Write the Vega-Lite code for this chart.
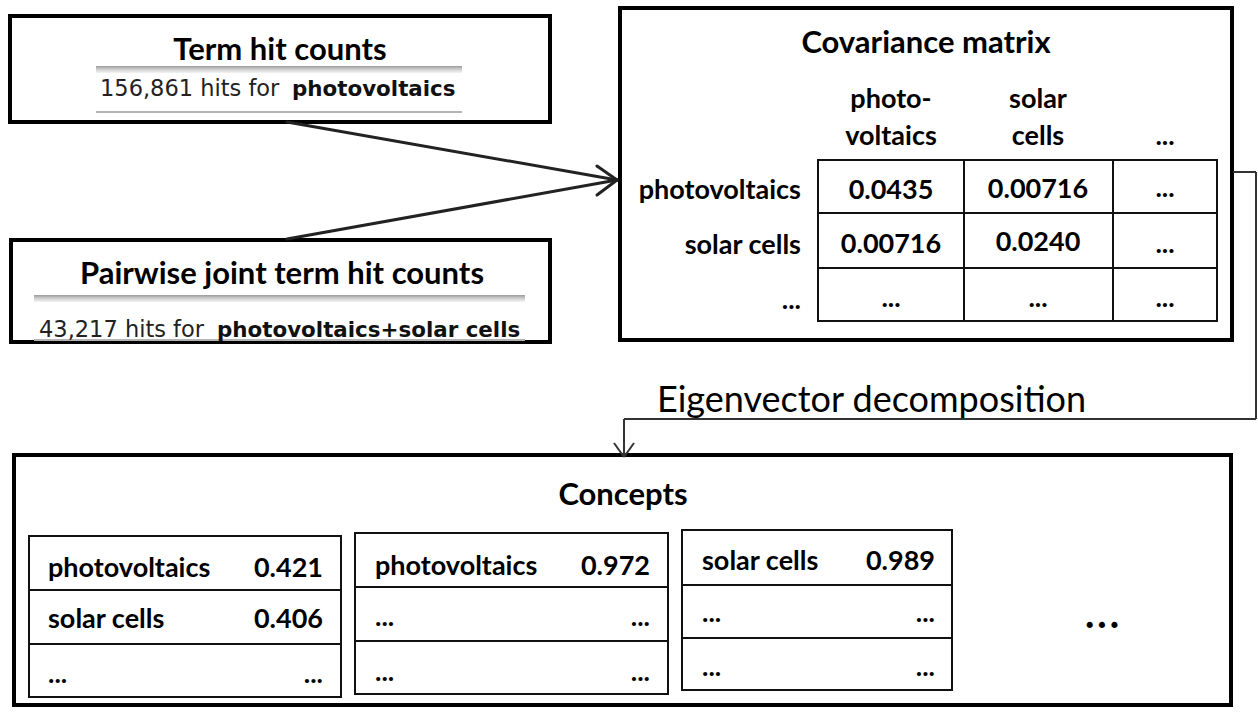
{
  "$schema": "https://vega.github.io/schema/vega-lite/v6.json",
  "width": 1258,
  "height": 712,
  "autosize": {"type": "fit", "contains": "padding"},
  "padding": 0,
  "background": "white",
  "config": {"view": {"stroke": null}},
  "datasets": {
    "boxes": [
      {"x": 10, "y": 16, "x2": 550, "y2": 122},
      {"x": 11, "y": 240, "x2": 550, "y2": 342},
      {"x": 620, "y": 8, "x2": 1232, "y2": 340},
      {"x": 14, "y": 455, "x2": 1231, "y2": 705}
    ],
    "bands": [
      {"x": 96, "y": 66, "x2": 462, "y2": 73},
      {"x": 34, "y": 295, "x2": 525, "y2": 302}
    ],
    "underlines": [
      {"x": 96, "y": 111, "x2": 462, "y2": 113},
      {"x": 34, "y": 339, "x2": 525, "y2": 341}
    ],
    "cells": [
      {"x": 818, "x2": 964, "y": 160, "y2": 213},
      {"x": 964, "x2": 1113, "y": 160, "y2": 213},
      {"x": 1113, "x2": 1217, "y": 160, "y2": 213},
      {"x": 818, "x2": 964, "y": 213, "y2": 268},
      {"x": 964, "x2": 1113, "y": 213, "y2": 268},
      {"x": 1113, "x2": 1217, "y": 213, "y2": 268},
      {"x": 818, "x2": 964, "y": 268, "y2": 321},
      {"x": 964, "x2": 1113, "y": 268, "y2": 321},
      {"x": 1113, "x2": 1217, "y": 268, "y2": 321},
      {"x": 29, "x2": 341, "y": 536, "y2": 590},
      {"x": 29, "x2": 341, "y": 590, "y2": 644},
      {"x": 29, "x2": 341, "y": 644, "y2": 697},
      {"x": 355, "x2": 668, "y": 533, "y2": 587},
      {"x": 355, "x2": 668, "y": 587, "y2": 641},
      {"x": 355, "x2": 668, "y": 641, "y2": 694},
      {"x": 682, "x2": 952, "y": 530, "y2": 585},
      {"x": 682, "x2": 952, "y": 585, "y2": 638},
      {"x": 682, "x2": 952, "y": 638, "y2": 690}
    ],
    "links": [
      {"x": 287, "y": 122, "x2": 617, "y2": 180},
      {"x": 287, "y": 239, "x2": 617, "y2": 180},
      {"x": 597, "y": 166, "x2": 617, "y2": 180},
      {"x": 597, "y": 195, "x2": 617, "y2": 180}
    ],
    "bracket": [
      {"x": 1233, "y": 172, "x2": 1256, "y2": 172},
      {"x": 1256, "y": 172, "x2": 1256, "y2": 419},
      {"x": 1256, "y": 419, "x2": 624, "y2": 419},
      {"x": 624, "y": 419, "x2": 624, "y2": 457},
      {"x": 614, "y": 443, "x2": 624, "y2": 457},
      {"x": 634, "y": 443, "x2": 624, "y2": 457}
    ],
    "titles": [
      {"label": "Term hit counts", "x": 280, "y": 60},
      {"label": "Pairwise joint term hit counts", "x": 282, "y": 284},
      {"label": "Covariance matrix", "x": 926, "y": 53},
      {"label": "Concepts", "x": 623, "y": 505}
    ],
    "hitsPlain": [
      {"label": "156,861 hits for", "x": 100, "y": 96},
      {"label": "43,217 hits for", "x": 39, "y": 337}
    ],
    "hitsBold": [
      {"label": "photovoltaics", "x": 292, "y": 96},
      {"label": "photovoltaics+solar cells", "x": 217, "y": 337}
    ],
    "matrixCenter": [
      {"label": "photo-", "x": 891, "y": 108},
      {"label": "voltaics", "x": 891, "y": 145},
      {"label": "solar", "x": 1038, "y": 108},
      {"label": "cells", "x": 1038, "y": 145},
      {"label": "...", "x": 1165, "y": 145},
      {"label": "0.0435", "x": 891, "y": 199},
      {"label": "0.00716", "x": 1038, "y": 198},
      {"label": "...", "x": 1165, "y": 197},
      {"label": "0.00716", "x": 891, "y": 253},
      {"label": "0.0240", "x": 1038, "y": 251},
      {"label": "...", "x": 1165, "y": 253},
      {"label": "...", "x": 891, "y": 307},
      {"label": "...", "x": 1038, "y": 307},
      {"label": "...", "x": 1165, "y": 307}
    ],
    "matrixRight": [
      {"label": "photovoltaics", "x": 801, "y": 199},
      {"label": "solar cells", "x": 801, "y": 254},
      {"label": "...", "x": 801, "y": 309}
    ],
    "conceptLeft": [
      {"label": "photovoltaics", "x": 48, "y": 577},
      {"label": "solar cells", "x": 48, "y": 628},
      {"label": "...", "x": 48, "y": 683},
      {"label": "photovoltaics", "x": 375, "y": 575},
      {"label": "...", "x": 375, "y": 626},
      {"label": "...", "x": 375, "y": 681},
      {"label": "solar cells", "x": 702, "y": 570},
      {"label": "...", "x": 702, "y": 622},
      {"label": "...", "x": 702, "y": 676}
    ],
    "conceptRight": [
      {"label": "0.421", "x": 323, "y": 577},
      {"label": "0.406", "x": 323, "y": 628},
      {"label": "...", "x": 323, "y": 683},
      {"label": "0.972", "x": 650, "y": 575},
      {"label": "...", "x": 650, "y": 626},
      {"label": "...", "x": 650, "y": 681},
      {"label": "0.989", "x": 935, "y": 570},
      {"label": "...", "x": 935, "y": 622},
      {"label": "...", "x": 935, "y": 676}
    ],
    "eigen": [
      {"label": "Eigenvector decomposition", "x": 657, "y": 412}
    ],
    "more": [
      {"label": "•••", "x": 1102, "y": 633}
    ]
  },
  "layer": [
    {
      "data": {"name": "boxes"},
      "mark": {"type": "rect", "fill": "white", "stroke": "black", "strokeWidth": 4},
      "encoding": {
        "x": {"field": "x", "type": "quantitative", "scale": {"domain": [0, 1258], "nice": false, "zero": false}, "axis": null},
        "x2": {"field": "x2"},
        "y": {"field": "y", "type": "quantitative", "scale": {"domain": [0, 712], "reverse": true, "nice": false, "zero": false}, "axis": null},
        "y2": {"field": "y2"}
      }
    },
    {
      "data": {"name": "bands"},
      "mark": {"type": "rect", "color": {"gradient": "linear", "x1": 0, "y1": 0, "x2": 0, "y2": 1, "stops": [{"offset": 0, "color": "#9a9a9a"}, {"offset": 0.4, "color": "#c8c8c8"}, {"offset": 1, "color": "#f4f4f4"}]}},
      "encoding": {
        "x": {"field": "x", "type": "quantitative", "scale": {"domain": [0, 1258], "nice": false, "zero": false}, "axis": null},
        "x2": {"field": "x2"},
        "y": {"field": "y", "type": "quantitative", "scale": {"domain": [0, 712], "reverse": true, "nice": false, "zero": false}, "axis": null},
        "y2": {"field": "y2"}
      }
    },
    {
      "data": {"name": "underlines"},
      "mark": {"type": "rect", "color": "#b4b4b4"},
      "encoding": {
        "x": {"field": "x", "type": "quantitative", "scale": {"domain": [0, 1258], "nice": false, "zero": false}, "axis": null},
        "x2": {"field": "x2"},
        "y": {"field": "y", "type": "quantitative", "scale": {"domain": [0, 712], "reverse": true, "nice": false, "zero": false}, "axis": null},
        "y2": {"field": "y2"}
      }
    },
    {
      "data": {"name": "cells"},
      "mark": {"type": "rect", "fill": null, "fillOpacity": 0, "stroke": "#111", "strokeWidth": 2},
      "encoding": {
        "x": {"field": "x", "type": "quantitative", "scale": {"domain": [0, 1258], "nice": false, "zero": false}, "axis": null},
        "x2": {"field": "x2"},
        "y": {"field": "y", "type": "quantitative", "scale": {"domain": [0, 712], "reverse": true, "nice": false, "zero": false}, "axis": null},
        "y2": {"field": "y2"}
      }
    },
    {
      "data": {"name": "links"},
      "mark": {"type": "rule", "color": "#222", "strokeWidth": 3, "strokeCap": "round"},
      "encoding": {
        "x": {"field": "x", "type": "quantitative", "scale": {"domain": [0, 1258], "nice": false, "zero": false}, "axis": null},
        "x2": {"field": "x2"},
        "y": {"field": "y", "type": "quantitative", "scale": {"domain": [0, 712], "reverse": true, "nice": false, "zero": false}, "axis": null},
        "y2": {"field": "y2"}
      }
    },
    {
      "data": {"name": "bracket"},
      "mark": {"type": "rule", "color": "#333", "strokeWidth": 2},
      "encoding": {
        "x": {"field": "x", "type": "quantitative", "scale": {"domain": [0, 1258], "nice": false, "zero": false}, "axis": null},
        "x2": {"field": "x2"},
        "y": {"field": "y", "type": "quantitative", "scale": {"domain": [0, 712], "reverse": true, "nice": false, "zero": false}, "axis": null},
        "y2": {"field": "y2"}
      }
    },
    {
      "data": {"name": "titles"},
      "mark": {"type": "text", "font": "Lato", "fontWeight": "bold", "fontSize": 31, "align": "center", "baseline": "alphabetic", "color": "black"},
      "encoding": {
        "x": {"field": "x", "type": "quantitative", "scale": {"domain": [0, 1258], "nice": false, "zero": false}, "axis": null},
        "y": {"field": "y", "type": "quantitative", "scale": {"domain": [0, 712], "reverse": true, "nice": false, "zero": false}, "axis": null},
        "text": {"field": "label"}
      }
    },
    {
      "data": {"name": "hitsPlain"},
      "mark": {"type": "text", "font": "DejaVu Sans", "fontSize": 22.5, "align": "left", "baseline": "alphabetic", "color": "#222"},
      "encoding": {
        "x": {"field": "x", "type": "quantitative", "scale": {"domain": [0, 1258], "nice": false, "zero": false}, "axis": null},
        "y": {"field": "y", "type": "quantitative", "scale": {"domain": [0, 712], "reverse": true, "nice": false, "zero": false}, "axis": null},
        "text": {"field": "label"}
      }
    },
    {
      "data": {"name": "hitsBold"},
      "mark": {"type": "text", "font": "DejaVu Sans", "fontWeight": "bold", "fontSize": 21.4, "align": "left", "baseline": "alphabetic", "color": "#111"},
      "encoding": {
        "x": {"field": "x", "type": "quantitative", "scale": {"domain": [0, 1258], "nice": false, "zero": false}, "axis": null},
        "y": {"field": "y", "type": "quantitative", "scale": {"domain": [0, 712], "reverse": true, "nice": false, "zero": false}, "axis": null},
        "text": {"field": "label"}
      }
    },
    {
      "data": {"name": "matrixCenter"},
      "mark": {"type": "text", "font": "Lato", "fontWeight": "bold", "fontSize": 27, "align": "center", "baseline": "alphabetic", "color": "black"},
      "encoding": {
        "x": {"field": "x", "type": "quantitative", "scale": {"domain": [0, 1258], "nice": false, "zero": false}, "axis": null},
        "y": {"field": "y", "type": "quantitative", "scale": {"domain": [0, 712], "reverse": true, "nice": false, "zero": false}, "axis": null},
        "text": {"field": "label"}
      }
    },
    {
      "data": {"name": "matrixRight"},
      "mark": {"type": "text", "font": "Lato", "fontWeight": "bold", "fontSize": 27, "align": "right", "baseline": "alphabetic", "color": "black"},
      "encoding": {
        "x": {"field": "x", "type": "quantitative", "scale": {"domain": [0, 1258], "nice": false, "zero": false}, "axis": null},
        "y": {"field": "y", "type": "quantitative", "scale": {"domain": [0, 712], "reverse": true, "nice": false, "zero": false}, "axis": null},
        "text": {"field": "label"}
      }
    },
    {
      "data": {"name": "conceptLeft"},
      "mark": {"type": "text", "font": "Lato", "fontWeight": "bold", "fontSize": 27, "align": "left", "baseline": "alphabetic", "color": "black"},
      "encoding": {
        "x": {"field": "x", "type": "quantitative", "scale": {"domain": [0, 1258], "nice": false, "zero": false}, "axis": null},
        "y": {"field": "y", "type": "quantitative", "scale": {"domain": [0, 712], "reverse": true, "nice": false, "zero": false}, "axis": null},
        "text": {"field": "label"}
      }
    },
    {
      "data": {"name": "conceptRight"},
      "mark": {"type": "text", "font": "Lato", "fontWeight": "bold", "fontSize": 27, "align": "right", "baseline": "alphabetic", "color": "black"},
      "encoding": {
        "x": {"field": "x", "type": "quantitative", "scale": {"domain": [0, 1258], "nice": false, "zero": false}, "axis": null},
        "y": {"field": "y", "type": "quantitative", "scale": {"domain": [0, 712], "reverse": true, "nice": false, "zero": false}, "axis": null},
        "text": {"field": "label"}
      }
    },
    {
      "data": {"name": "eigen"},
      "mark": {"type": "text", "font": "Lato", "fontSize": 36, "align": "left", "baseline": "alphabetic", "color": "black"},
      "encoding": {
        "x": {"field": "x", "type": "quantitative", "scale": {"domain": [0, 1258], "nice": false, "zero": false}, "axis": null},
        "y": {"field": "y", "type": "quantitative", "scale": {"domain": [0, 712], "reverse": true, "nice": false, "zero": false}, "axis": null},
        "text": {"field": "label"}
      }
    },
    {
      "data": {"name": "more"},
      "mark": {"type": "text", "font": "DejaVu Sans", "fontSize": 21, "align": "center", "baseline": "alphabetic", "color": "black"},
      "encoding": {
        "x": {"field": "x", "type": "quantitative", "scale": {"domain": [0, 1258], "nice": false, "zero": false}, "axis": null},
        "y": {"field": "y", "type": "quantitative", "scale": {"domain": [0, 712], "reverse": true, "nice": false, "zero": false}, "axis": null},
        "text": {"field": "label"}
      }
    }
  ]
}
